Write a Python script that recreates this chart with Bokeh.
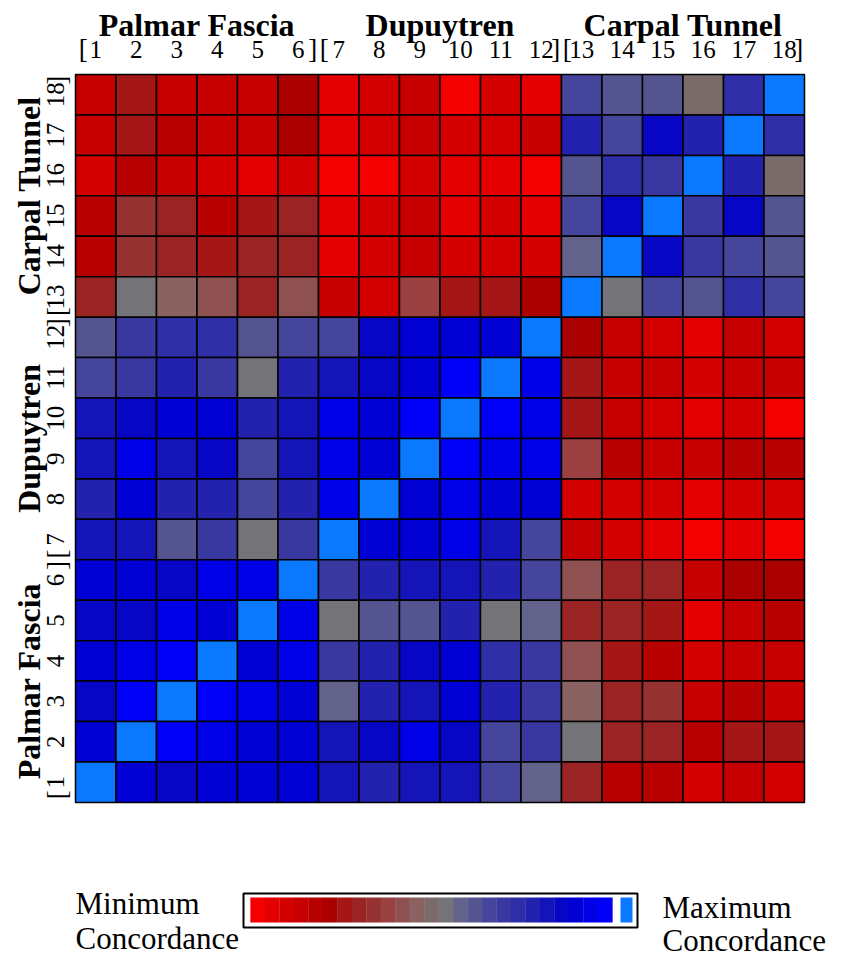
import math
from bokeh.plotting import figure
from bokeh.models import ColumnDataSource, LinearColorMapper, Range1d
from bokeh.transform import transform
from bokeh.core.properties import value
from bokeh.embed import file_html
from bokeh.resources import INLINE

# ---------------- data ----------------
groups = ["Palmar Fascia", "Dupuytren", "Carpal Tunnel"]
group_centers = [3.5, 9.5, 15.5]
samples = list(range(1, 19))

# concordance scale: index 0 = minimum (red) ... 24 = high (blue), 25 = maximum (self)
palette = [
    "#F50000", "#E40000", "#D40000", "#C60000", "#B70000", "#AA0000",
    "#A51616", "#9A2424", "#963232", "#9A4040", "#8E5050", "#8A6262",
    "#7A6A6A", "#747478", "#62628A", "#545490", "#45459C", "#3838A0",
    "#2E2EA6", "#2222AE", "#1414B8", "#0606C4", "#0000D4", "#0000E6",
    "#0000F8", "#0A78FF",
]
legend_levels = list(range(0, 25))
max_level = 25

# concordance level per cell; rows listed from sample 18 (top) to sample 1 (bottom), columns 1..18
row_order = list(range(18, 0, -1))
concordance = [
    [3, 6, 3, 3, 3, 5, 1, 2, 3, 0, 2, 1, 16, 15, 15, 12, 18, 25],
    [3, 6, 4, 3, 3, 5, 1, 2, 3, 2, 2, 3, 19, 16, 21, 19, 25, 18],
    [2, 4, 3, 2, 1, 2, 0, 0, 2, 1, 1, 0, 15, 18, 17, 25, 19, 12],
    [4, 8, 7, 4, 6, 7, 1, 2, 3, 1, 2, 1, 16, 21, 25, 17, 21, 15],
    [4, 8, 7, 6, 7, 7, 1, 2, 3, 2, 2, 2, 14, 25, 21, 17, 16, 15],
    [7, 13, 11, 10, 7, 10, 3, 2, 9, 6, 6, 5, 25, 13, 16, 15, 18, 16],
    [15, 17, 18, 18, 15, 16, 16, 21, 22, 22, 22, 25, 5, 3, 2, 1, 3, 2],
    [16, 17, 19, 17, 13, 19, 20, 21, 22, 24, 25, 23, 6, 3, 3, 2, 3, 3],
    [20, 21, 22, 22, 19, 20, 23, 22, 24, 25, 24, 23, 6, 3, 2, 1, 2, 0],
    [20, 23, 20, 21, 16, 20, 23, 22, 25, 24, 23, 23, 9, 4, 3, 3, 4, 4],
    [19, 22, 19, 19, 16, 19, 23, 25, 22, 23, 22, 22, 2, 2, 2, 1, 2, 2],
    [20, 20, 15, 17, 13, 17, 25, 22, 22, 23, 20, 16, 3, 2, 1, 0, 1, 0],
    [22, 22, 21, 23, 23, 25, 17, 19, 20, 20, 19, 16, 10, 7, 7, 3, 5, 5],
    [21, 21, 23, 22, 25, 23, 13, 15, 15, 19, 13, 14, 7, 7, 6, 1, 3, 4],
    [22, 23, 24, 25, 22, 23, 17, 19, 21, 22, 18, 17, 10, 6, 4, 2, 3, 3],
    [21, 24, 25, 24, 23, 22, 14, 19, 20, 22, 19, 17, 11, 7, 8, 3, 4, 3],
    [22, 25, 24, 23, 22, 22, 20, 21, 23, 21, 16, 17, 13, 7, 7, 4, 6, 6],
    [25, 22, 21, 22, 22, 22, 20, 19, 20, 20, 16, 14, 7, 4, 4, 2, 3, 2],
]

# ---------------- layout helpers (page pixels -> data units) ----------------
W, H = 843, 960
OX, OY = 0, 0
LEFT, TOP = 75.0, 74.0
CW, CH = 40.5, 40.44


def dx(px):
    return 0.5 + (px - LEFT) / CW


def dy(py):
    return 18.5 - (py - TOP) / CH


p = figure(width=W, height=H, output_backend="svg", toolbar_location=None,
           x_range=Range1d(dx(OX), dx(OX + W)), y_range=Range1d(dy(OY + H), dy(OY)),
           min_border=0, background_fill_color="white", border_fill_color="white")
p.axis.visible = False
p.grid.visible = False
p.outline_line_color = None

mapper = LinearColorMapper(palette=palette, low=-0.5, high=len(palette) - 0.5)

xs, ys, lv = [], [], []
for r, row in zip(row_order, concordance):
    for c, v in zip(samples, row):
        xs.append(c)
        ys.append(r)
        lv.append(v)
cells = ColumnDataSource(dict(x=xs, y=ys, level=lv))
p.rect(x="x", y="y", width=1, height=1, source=cells,
       fill_color=transform("level", mapper), line_color="black", line_width=1.5)

SERIF = value("Liberation Serif")

# column group titles and numbers
p.text(x=group_centers, y=[dy(24)] * 3, text=groups, text_font=SERIF,
       text_font_size=value("32px"), text_font_style="bold",
       text_align="center", text_baseline="middle", text_color="black")
p.text(x=samples, y=[dy(49)] * 18, text=[str(s) for s in samples], text_font=SERIF,
       text_font_size=value("25px"), text_align="center", text_baseline="middle",
       text_color="black")
p.text(x=[0.58, 6.53, 12.53], y=[dy(48)] * 3, text=["["] * 3, text_font=SERIF,
       text_font_size=value("27px"), text_align="left", text_baseline="middle")
p.text(x=[6.47, 12.47, 18.47], y=[dy(48)] * 3, text=["]"] * 3, text_font=SERIF,
       text_font_size=value("27px"), text_align="right", text_baseline="middle")

# row group titles and numbers (rotated)
ang = math.pi / 2
p.text(x=[dx(28)] * 3, y=group_centers, text=groups, text_font=SERIF,
       text_font_size=value("32px"), text_font_style="bold", angle=ang,
       text_align="center", text_baseline="middle", text_color="black")
p.text(x=[dx(55)] * 18, y=samples, text=[str(s) for s in samples], text_font=SERIF,
       text_font_size=value("25px"), angle=ang, text_align="center",
       text_baseline="middle", text_color="black")
p.text(x=[dx(56)] * 3, y=[0.58, 6.53, 12.53], text=["["] * 3, text_font=SERIF,
       text_font_size=value("27px"), angle=ang, text_align="left", text_baseline="middle")
p.text(x=[dx(56)] * 3, y=[6.47, 12.47, 18.47], text=["]"] * 3, text_font=SERIF,
       text_font_size=value("27px"), angle=ang, text_align="right", text_baseline="middle")

# ---------------- legend ----------------
box_l, box_r, box_t, box_b = 243, 637, 893, 927
p.rect(x=[dx((box_l + box_r) / 2)], y=[dy((box_t + box_b) / 2)],
       width=(box_r - box_l) / CW, height=(box_b - box_t) / CH,
       fill_color="white", line_color="black", line_width=2)
g_l, g_r, g_t, g_b = 250, 612, 897, 922
seg = (g_r - g_l) / len(legend_levels)
leg = ColumnDataSource(dict(
    x=[dx(g_l + (i + 0.5) * seg) for i in range(len(legend_levels))],
    y=[dy((g_t + g_b) / 2)] * len(legend_levels),
    level=legend_levels))
p.rect(x="x", y="y", width=seg / CW * 1.02, height=(g_b - g_t) / CH, source=leg,
       fill_color=transform("level", mapper), line_color=None)
mx = ColumnDataSource(dict(x=[dx(626)], y=[dy((g_t + g_b) / 2)], level=[max_level]))
p.rect(x="x", y="y", width=12 / CW, height=(g_b - g_t) / CH, source=mx,
       fill_color=transform("level", mapper), line_color=None)

p.text(x=[dx(75), dx(75), dx(662), dx(662)],
       y=[dy(903), dy(938), dy(907), dy(940)],
       text=["Minimum", "Concordance", "Maximum", "Concordance"],
       text_font=SERIF, text_font_size=value("31px"), text_align="left",
       text_baseline="middle", text_color="black")

open("out.html", "w").write(file_html(p, INLINE))
